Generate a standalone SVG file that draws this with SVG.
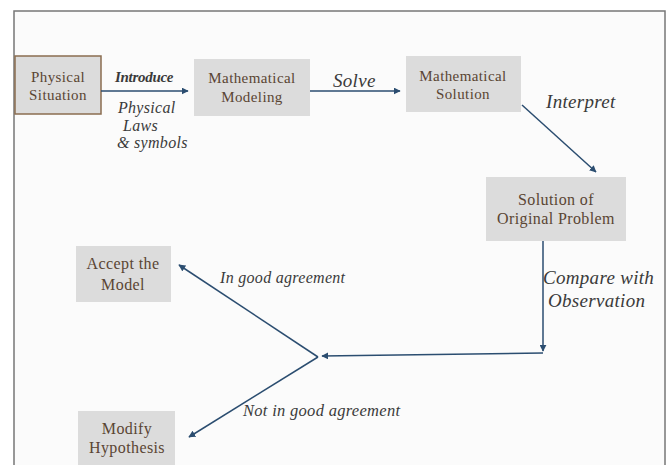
<svg xmlns="http://www.w3.org/2000/svg" width="671" height="465" viewBox="0 0 671 465">
<defs>
<marker id="ah" viewBox="0 0 10 10" refX="9" refY="5" markerWidth="7" markerHeight="7" markerUnits="userSpaceOnUse" orient="auto">
<path d="M0,0 L10,5 L0,10 z" fill="#2b4d70"/>
</marker>
<style>
.box{fill:#dcdcdc;}
.nt{fill:#5a4533;text-anchor:middle;letter-spacing:0.4px;}
.lb{font-style:italic;fill:#3a3a3a;letter-spacing:0.3px;}
.cn{stroke:#2b4d70;stroke-width:1.5;fill:none;}
</style>
</defs>
<rect x="0" y="0" width="671" height="465" fill="#ffffff"/>
<rect x="14" y="11" width="651" height="460" fill="#fbfbfb" stroke="#777" stroke-width="1.5"/>
<g font-family="Liberation Serif, serif" font-size="15">
<g id="physical-situation">
<rect class="box" x="15" y="56" width="86" height="58" stroke="#8b6d50" stroke-width="1.5"/>
<text class="nt" x="58" y="82">Physical</text>
<text class="nt" x="58" y="100">Situation</text>
</g>
<g id="mathematical-modeling">
<rect class="box" x="194" y="59" width="116" height="57"/>
<text class="nt" x="252" y="83">Mathematical</text>
<text class="nt" x="252" y="102">Modeling</text>
</g>
<g id="mathematical-solution">
<rect class="box" x="406" y="56" width="115" height="56"/>
<text class="nt" x="463" y="81">Mathematical</text>
<text class="nt" x="463" y="99">Solution</text>
</g>
<g id="solution-original">
<rect class="box" x="486" y="177" width="140" height="64"/>
<text class="nt" x="556" y="205" font-size="16">Solution of</text>
<text class="nt" x="556" y="224" font-size="16">Original Problem</text>
</g>
<g id="accept-model">
<rect class="box" x="76" y="246" width="95" height="56"/>
<text class="nt" x="123" y="269" font-size="16">Accept the</text>
<text class="nt" x="123" y="290" font-size="16">Model</text>
</g>
<g id="modify-hypothesis">
<rect class="box" x="78" y="411" width="97" height="60"/>
<text class="nt" x="127" y="434" font-size="16">Modify</text>
<text class="nt" x="127" y="453" font-size="16">Hypothesis</text>
</g>
<g id="connectors">
<line class="cn" x1="101" y1="91" x2="188" y2="91" marker-end="url(#ah)"/>
<line class="cn" x1="310" y1="91" x2="400" y2="91" marker-end="url(#ah)"/>
<line class="cn" x1="522" y1="105" x2="596" y2="172" marker-end="url(#ah)"/>
<line class="cn" x1="543" y1="241" x2="543" y2="351" marker-end="url(#ah)"/>
<line class="cn" x1="543" y1="353" x2="322" y2="356" marker-end="url(#ah)"/>
<line class="cn" x1="318" y1="357" x2="179" y2="265" marker-end="url(#ah)"/>
<line class="cn" x1="318" y1="357" x2="189" y2="437" marker-end="url(#ah)"/>
</g>
<g id="labels">
<text class="lb" x="115" y="82" font-weight="bold" font-size="15" style="letter-spacing:-0.3px">Introduce</text>
<text class="lb" x="118" y="113" font-size="16">Physical</text>
<text class="lb" x="123" y="131" font-size="16">Laws</text>
<text class="lb" x="117" y="148" font-size="16">&amp; symbols</text>
<text class="lb" x="333" y="87" font-size="19">Solve</text>
<text class="lb" x="546" y="108" font-size="19">Interpret</text>
<text class="lb" x="543" y="284" font-size="19">Compare with</text>
<text class="lb" x="548" y="307" font-size="19">Observation</text>
<text class="lb" x="220" y="283" font-size="16">In good agreement</text>
<text class="lb" x="243" y="416" font-size="16.5">Not in good agreement</text>
</g>
</g>
</svg>
